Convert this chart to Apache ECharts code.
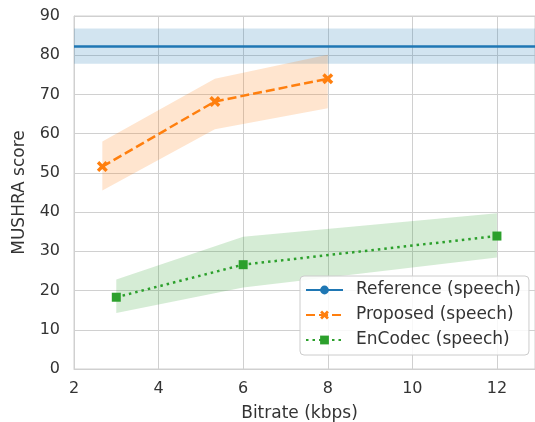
<!DOCTYPE html>
<html>
<head>
<meta charset="utf-8">
<script src="https://cdn.jsdelivr.net/npm/echarts@6/dist/echarts.min.js"></script>
<style>
  html, body { margin: 0; padding: 0; background: #fff; }
  #chart { width: 535px; height: 422px; }
</style>
</head>
<body>
<div id="chart"></div>
<script>
// MUSHRA listening test results for speech, by bitrate
const refMean = 82.4;
const refLow = 77.8;
const refHigh = 86.8;

const proposedBitrate = [2.67, 5.33, 8];
const proposedMean = [51.6, 68.2, 74.0];
const proposedLow = [45.5, 61.1, 66.5];
const proposedHigh = [58.0, 74.0, 80.1];

const encodecBitrate = [3, 6, 12];
const encodecMean = [18.3, 26.6, 33.9];
const encodecLow = [14.3, 20.8, 28.4];
const encodecHigh = [22.8, 33.7, 39.7];

const xTicks = [2, 4, 6, 8, 10, 12];
const yTicks = [0, 10, 20, 30, 40, 50, 60, 70, 80, 90];

const BLUE = '#1f77b4', ORANGE = '#ff7f0e', GREEN = '#2ca02c';
const TEXT = '#333333', GRID = '#d0d0d0';
const FONT = '"DejaVu Sans", sans-serif';

// filled "X" marker
const X_MARK = 'path://M0.22,0 L0.5,0.28 L0.78,0 L1,0.22 L0.72,0.5 L1,0.78 L0.78,1 L0.5,0.72 L0.22,1 L0,0.78 L0.28,0.5 L0,0.22 Z';

// Confidence band drawn as one polygon through the axis coordinates
function bandSeries(xs, lo, hi, color) {
  return {
    type: 'custom',
    silent: true,
    z: 1,
    data: xs.map((x, i) => [x, lo[i], hi[i]]),
    renderItem: function (params, api) {
      if (params.dataIndex !== 0) return null;
      const pts = [];
      for (let i = 0; i < xs.length; i++) pts.push(api.coord([xs[i], hi[i]]));
      for (let i = xs.length - 1; i >= 0; i--) pts.push(api.coord([xs[i], lo[i]]));
      return {
        type: 'polygon',
        shape: { points: pts },
        style: { fill: color, opacity: 0.2, stroke: null }
      };
    }
  };
}

const chart = echarts.init(document.getElementById('chart'), null, { renderer: 'canvas' });

chart.setOption({
  animation: false,
  backgroundColor: '#ffffff',
  textStyle: { fontFamily: FONT },
  grid: {
    left: 74, right: 0, top: 16, bottom: 53,
    outerBoundsMode: 'none',
    containLabel: false,
    show: true, borderColor: GRID, borderWidth: 1
  },
  xAxis: {
    type: 'value',
    min: xTicks[0],
    max: 12.9,
    interval: 2,
    name: 'Bitrate (kbps)',
    nameLocation: 'middle',
    nameGap: 36,
    nameTextStyle: { color: TEXT, fontSize: 17, fontFamily: FONT, padding: [0, 10, 0, 0] },
    axisLine: { show: true, lineStyle: { color: GRID } },
    axisTick: { show: false },
    axisLabel: {
      color: TEXT, fontSize: 16, fontFamily: FONT, margin: 12,
      showMaxLabel: false,
      formatter: v => (xTicks.indexOf(v) >= 0 ? String(v) : '')
    },
    splitLine: { show: true, lineStyle: { color: GRID, width: 1 } }
  },
  yAxis: {
    type: 'value',
    min: yTicks[0],
    max: yTicks[yTicks.length - 1],
    interval: 10,
    name: 'MUSHRA score',
    nameLocation: 'middle',
    nameGap: 46,
    nameTextStyle: { color: TEXT, fontSize: 17, fontFamily: FONT },
    axisLine: { show: true, lineStyle: { color: GRID } },
    axisTick: { show: false },
    axisLabel: { color: TEXT, fontSize: 16, fontFamily: FONT, margin: 14 },
    splitLine: { show: true, lineStyle: { color: GRID, width: 1 } }
  },
  legend: {
    data: ['Reference (speech)', 'Proposed (speech)', 'EnCodec (speech)'],
    orient: 'vertical',
    left: 300,
    top: 276,
    itemWidth: 37,
    itemHeight: 11,
    itemGap: 7,
    padding: [5, 8, 6, 5],
    backgroundColor: 'rgba(255,255,255,0.85)',
    borderColor: '#cccccc',
    borderWidth: 1,
    borderRadius: 4,
    textStyle: { color: TEXT, fontSize: 17, fontFamily: FONT, lineHeight: 18, padding: [0, 0, 0, 8] }
  },
  series: [
    {
      name: 'Reference (speech)',
      type: 'line',
      data: [],
      symbol: 'circle',
      symbolSize: 10,
      itemStyle: { color: BLUE },
      lineStyle: { color: BLUE, width: 2.5 },
      z: 3,
      markArea: {
        silent: true,
        itemStyle: { color: BLUE, opacity: 0.2 },
        data: [[{ yAxis: refLow }, { yAxis: refHigh }]]
      },
      markLine: {
        silent: true,
        symbol: 'none',
        label: { show: false },
        lineStyle: { color: BLUE, width: 2.5, type: 'solid' },
        data: [{ yAxis: refMean }]
      }
    },
    bandSeries(proposedBitrate, proposedLow, proposedHigh, ORANGE),
    {
      name: 'Proposed (speech)',
      type: 'line',
      data: proposedBitrate.map((x, i) => [x, proposedMean[i]]),
      symbol: X_MARK,
      symbolSize: 11,
      itemStyle: { color: ORANGE },
      lineStyle: { color: ORANGE, width: 2.5, type: [9, 4] },
      z: 3
    },
    bandSeries(encodecBitrate, encodecLow, encodecHigh, GREEN),
    {
      name: 'EnCodec (speech)',
      type: 'line',
      data: encodecBitrate.map((x, i) => [x, encodecMean[i]]),
      symbol: 'rect',
      symbolSize: 9,
      itemStyle: { color: GREEN },
      lineStyle: { color: GREEN, width: 2.5, type: [2.5, 4] },
      z: 3
    }
  ]
});
</script>
</body>
</html>
